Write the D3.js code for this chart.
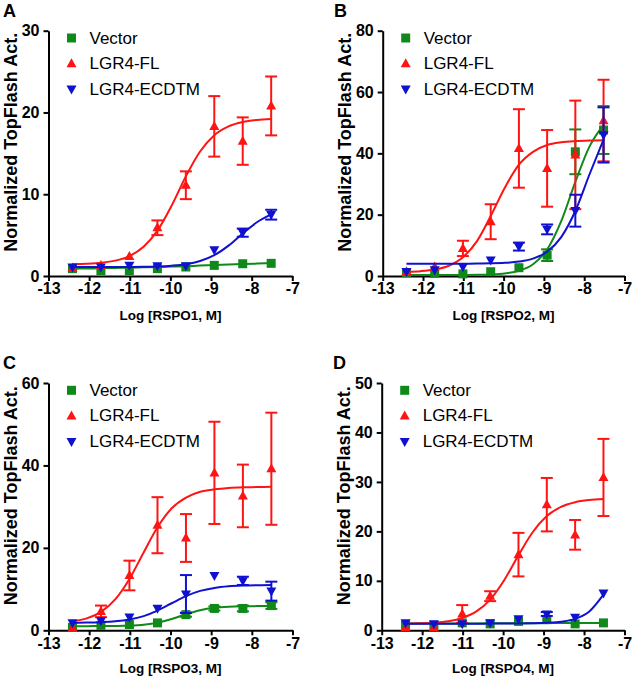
<!DOCTYPE html>
<html>
<head>
<meta charset="utf-8">
<script src="https://cdn.jsdelivr.net/npm/d3@7/dist/d3.min.js"></script>
<style>
  html, body { margin: 0; padding: 0; background: #ffffff; }
  svg { display: block; }
  text { font-family: "Liberation Sans", Arial, sans-serif; fill: #000; }
</style>
</head>
<body>
<svg id="chart" width="633" height="676"></svg>
<script>
// ---------- data ----------
const seriesNames = ["Vector", "LGR4-FL", "LGR4-ECDTM"];
const xTicks = [-13, -12, -11, -10, -9, -8, -7];
const logConc = [-12.41, -11.71, -11.01, -10.32, -9.62, -8.92, -8.22, -7.52];
const curveX = [-12.41, -12.06, -11.71, -11.36, -11.01, -10.66, -10.32, -9.97, -9.62, -9.27, -8.92, -8.57, -8.22, -7.87, -7.52];

// Panel A (RSPO1)
const aYTicks = [0, 10, 20, 30];
const aVector = [0.9, 0.65, 0.65, 0.9, 1.1, 1.3, 1.5, 1.55];
const aVectorErr = [0, 0, 0, 0, 0, 0, 0, 0];
const aFL = [1.0, 1.3, 2.4, 5.9, 11.1, 18.3, 16.5, 20.8];
const aFLErr = [0, 0, 0, 0.9, 1.7, 3.7, 2.9, 3.6];
const aECD = [1.1, 1.1, 1.3, 1.25, 1.25, 3.2, 5.3, 7.5];
const aECDErr = [0, 0, 0, 0, 0, 0, 0.5, 0.6];
const aVectorFit = [0.90, 0.92, 0.95, 0.98, 1.02, 1.06, 1.10, 1.15, 1.20, 1.27, 1.33, 1.40, 1.46, 1.52, 1.57];
const aFLFit = [1.44, 1.50, 1.62, 1.88, 2.44, 3.57, 5.55, 8.61, 12.18, 15.22, 17.22, 18.30, 18.84, 19.09, 19.21];
const aECDFit = [1.10, 1.10, 1.10, 1.11, 1.11, 1.13, 1.17, 1.26, 1.44, 1.83, 2.55, 3.72, 5.20, 6.57, 7.53];

// Panel B (RSPO2)
const bYTicks = [0, 20, 40, 60, 80];
const bVector = [1.1, 0.9, 0.7, 1.4, 2.7, 6.8, 40.5, 47.6];
const bVectorErr = [0, 0, 0, 0, 0, 1.9, 7.3, 7.8];
const bFL = [1.4, 3.0, 9.0, 17.7, 41.6, 35.1, 39.5, 50.7];
const bFLErr = [0, 0, 2.5, 5.7, 12.8, 12.5, 17.7, 13.3];
const bECD = [1.4, 2.0, 3.0, 5.2, 9.6, 15.2, 21.3, 46.0];
const bECDErr = [0, 0, 0, 0, 1.3, 1.6, 5.2, 9.0];
const bVectorFit = [0.30, 0.30, 0.30, 0.31, 0.33, 0.38, 0.51, 0.84, 1.70, 3.84, 8.66, 17.9, 30.7, 42.2, 49.3];
const bFLFit = [1.36, 1.58, 2.12, 3.35, 6.11, 11.37, 19.55, 28.8, 36.3, 40.5, 42.7, 43.6, 44.0, 44.2, 44.3];
const bECDFit = [4.0, 4.0, 4.0, 4.0, 4.02, 4.05, 4.12, 4.29, 4.71, 5.68, 7.92, 12.7, 21.2, 33.1, 44.5];

// Panel C (RSPO3)
const cYTicks = [0, 20, 40, 60];
const cVector = [0.7, 1.2, 1.4, 1.8, 3.8, 5.3, 5.3, 6.0];
const cVectorErr = [0, 0, 0, 0, 0.5, 0.5, 0.7, 0.8];
const cFL = [0.6, 4.6, 13.3, 25.5, 22.4, 38.2, 32.6, 39.2];
const cFLErr = [0, 1.4, 3.6, 6.8, 5.8, 12.4, 7.6, 13.6];
const cECD = [1.8, 2.3, 3.2, 5.3, 8.8, 13.3, 12.0, 9.5];
const cECDErr = [0, 0, 0, 0, 4.6, 0, 1.0, 2.3];
const cVectorFit = [1.00, 1.01, 1.02, 1.06, 1.15, 1.37, 1.84, 2.73, 3.89, 4.87, 5.45, 5.72, 5.83, 5.87, 5.89];
const cFLFit = [2.14, 2.89, 4.46, 7.48, 12.45, 18.9, 25.0, 29.6, 32.2, 33.6, 34.2, 34.55, 34.7, 34.75, 34.8];
const cECDFit = [1.84, 1.88, 1.98, 2.18, 2.62, 3.45, 4.78, 6.56, 8.30, 9.56, 10.29, 10.67, 10.85, 10.93, 10.97];

// Panel D (RSPO4)
const dYTicks = [0, 10, 20, 30, 40, 50];
const dVector = [1.1, 1.0, 1.5, 1.3, 1.8, 2.2, 1.3, 1.5];
const dVectorErr = [0, 0, 0, 0, 0, 0, 0, 0];
const dFL = [0.6, 0.6, 3.3, 6.9, 15.3, 25.4, 19.3, 30.9];
const dFLErr = [0, 0, 1.8, 1.0, 4.4, 5.4, 3.0, 7.8];
const dECD = [1.5, 1.3, 1.3, 1.5, 2.3, 3.3, 2.6, 7.5];
const dECDErr = [0, 0, 0, 0, 0, 0.4, 0, 0];
const dVectorFit = [1.35, 1.36, 1.37, 1.38, 1.39, 1.40, 1.41, 1.42, 1.43, 1.44, 1.45, 1.46, 1.47, 1.48, 1.50];
const dFLFit = [1.35, 1.41, 1.55, 1.84, 2.49, 3.81, 6.20, 10.17, 15.17, 19.82, 23.09, 24.95, 25.89, 26.33, 26.53];
const dECDFit = [1.3, 1.3, 1.3, 1.3, 1.3, 1.3, 1.35, 1.35, 1.4, 1.45, 1.55, 1.75, 2.3, 3.8, 7.2];

const panelLetters = ["A", "B", "C", "D"];
const xTitles = ["Log [RSPO1, M]", "Log [RSPO2, M]", "Log [RSPO3, M]", "Log [RSPO4, M]"];
const yTitle = "Normalized TopFlash Act.";

// ---------- styling / layout ----------
const colors = ["#0f8a1a", "#ff1414", "#1010d0"];
const shapes = ["square", "up", "down"];

const panels = [
  { letter: panelLetters[0], xt: xTitles[0], yTicks: aYTicks, x0: 48.5, x1: 292.3, y0: 276, y1: 30.7, lx: 3, ly: 16.5, xtOff: 44,
    data: [[aVector, aVectorErr, aVectorFit], [aFL, aFLErr, aFLFit], [aECD, aECDErr, aECDFit]] },
  { letter: panelLetters[1], xt: xTitles[1], yTicks: bYTicks, x0: 382.7, x1: 624.5, y0: 276, y1: 30.7, lx: 334, ly: 16.5, xtOff: 44,
    data: [[bVector, bVectorErr, bVectorFit], [bFL, bFLErr, bFLFit], [bECD, bECDErr, bECDFit]] },
  { letter: panelLetters[2], xt: xTitles[2], yTicks: cYTicks, x0: 48.5, x1: 292.5, y0: 630.3, y1: 383, lx: 3, ly: 369, xtOff: 42.3,
    data: [[cVector, cVectorErr, cVectorFit], [cFL, cFLErr, cFLFit], [cECD, cECDErr, cECDFit]] },
  { letter: panelLetters[3], xt: xTitles[3], yTicks: dYTicks, x0: 381.7, x1: 624.5, y0: 630.3, y1: 383, lx: 333, ly: 369, xtOff: 42.3,
    data: [[dVector, dVectorErr, dVectorFit], [dFL, dFLErr, dFLFit], [dECD, dECDErr, dECDFit]] }
];

function markerPath(shape, s) {
  const h = s / 2;
  if (shape === "square") return `M${-h},${-h}H${h}V${h}H${-h}Z`;
  const th = s * 0.9;
  if (shape === "up") return `M0,${-th * 0.6}L${h},${th * 0.4}L${-h},${th * 0.4}Z`;
  return `M0,${th * 0.6}L${h},${-th * 0.4}L${-h},${-th * 0.4}Z`;
}

const svg = d3.select("#chart");

panels.forEach((p, pi) => {
  const g = svg.append("g");
  const x = d3.scaleLinear().domain([-13, -7]).range([p.x0, p.x1]);
  const yMax = p.yTicks[p.yTicks.length - 1];
  const y = d3.scaleLinear().domain([0, yMax]).range([p.y0, p.y1]);

  // axes
  const yAxis = d3.axisLeft(y).tickValues(p.yTicks).tickSize(5).tickPadding(4).tickSizeOuter(0)
    .tickFormat(d => String(d));
  const xAxis = d3.axisBottom(x).tickValues(xTicks).tickSize(5).tickPadding(2).tickSizeOuter(0)
    .tickFormat(d => String(d));
  const ya = g.append("g").attr("transform", `translate(${p.x0},0)`).call(yAxis);
  const xa = g.append("g").attr("transform", `translate(0,${p.y0})`).call(xAxis);
  [ya, xa].forEach(a => {
    a.select(".domain").attr("stroke", "#000").attr("stroke-width", 2);
    a.selectAll(".tick line").attr("stroke", "#000").attr("stroke-width", 2);
    a.selectAll(".tick text").attr("font-family", "'Liberation Sans', Arial, sans-serif")
      .attr("font-size", 16).attr("font-weight", "bold").attr("fill", "#000");
  });

  // titles
  g.append("text").attr("x", p.lx).attr("y", p.ly).attr("font-size", 18).attr("font-weight", "bold").text(p.letter);
  g.append("text").attr("transform", `translate(${p.x0 - 32},${(p.y0 + p.y1) / 2 - 11}) rotate(-90)`)
    .attr("text-anchor", "middle").attr("font-size", 18).attr("font-weight", "bold").text(yTitle);
  g.append("text").attr("x", (p.x0 + p.x1) / 2).attr("y", p.y0 + p.xtOff)
    .attr("text-anchor", "middle").attr("font-size", 13.5).attr("font-weight", "bold").text(p.xt);

  // series: Vector, FL, ECDTM
  const line = d3.line().x(d => x(d[0])).y(d => y(d[1])).curve(d3.curveMonotoneX);
  p.data.forEach((sd, si) => {
    const [vals, errs, fit] = sd;
    const col = colors[si];
    const sg = g.append("g");
    sg.append("path").datum(curveX.map((cx, i) => [cx, fit[i]]))
      .attr("d", line).attr("fill", "none").attr("stroke", col).attr("stroke-width", 2);
    const pts = logConc.map((cx, i) => ({ x: cx, v: vals[i], e: errs[i] })).filter(d => d.e > 0);
    const eg = sg.selectAll(".err").data(pts).enter().append("g").attr("class", "err");
    eg.append("line").attr("x1", d => x(d.x)).attr("x2", d => x(d.x))
      .attr("y1", d => y(d.v - d.e)).attr("y2", d => y(d.v + d.e))
      .attr("stroke", col).attr("stroke-width", 2);
    eg.append("line").attr("x1", d => x(d.x) - 6).attr("x2", d => x(d.x) + 6)
      .attr("y1", d => y(d.v + d.e)).attr("y2", d => y(d.v + d.e))
      .attr("stroke", col).attr("stroke-width", 2);
    eg.append("line").attr("x1", d => x(d.x) - 6).attr("x2", d => x(d.x) + 6)
      .attr("y1", d => y(d.v - d.e)).attr("y2", d => y(d.v - d.e))
      .attr("stroke", col).attr("stroke-width", 2);
    sg.selectAll(".mk").data(logConc.map((cx, i) => ({ x: cx, v: vals[i] }))).enter()
      .append("path").attr("class", "mk")
      .attr("transform", d => `translate(${x(d.x)},${y(d.v)})`)
      .attr("d", markerPath(shapes[si], si === 0 ? 9 : 10)).attr("fill", col);
  });

  // legend
  const lg = g.append("g");
  seriesNames.forEach((name, si) => {
    const by = p.y1 + 12.8 + si * 25.6;
    lg.append("path").attr("transform", `translate(${p.x0 + 23},${by - 5.5})`)
      .attr("d", markerPath(shapes[si], si === 0 ? 9 : 10)).attr("fill", colors[si]);
    lg.append("text").attr("x", p.x0 + 41).attr("y", by).attr("font-size", 17).text(name);
  });
});
</script>
</body>
</html>
